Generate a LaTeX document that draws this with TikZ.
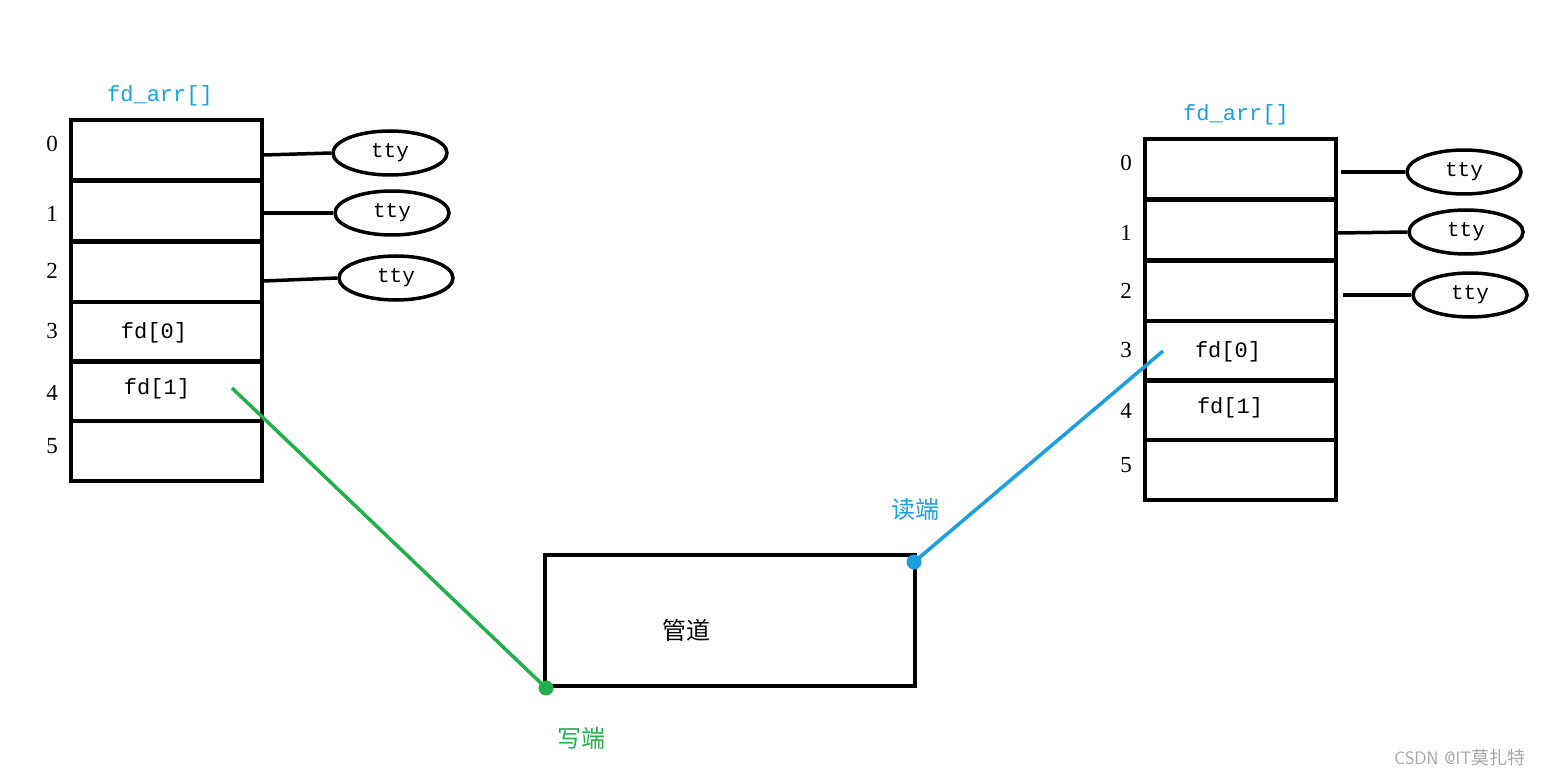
\documentclass[tikz,border=0pt]{standalone}
\usepackage{fontspec}
\setmainfont{Liberation Serif}
\newfontfamily\cjk{Noto Sans CJK SC}
\newfontfamily\mono{Liberation Mono}
\definecolor{lblue}{HTML}{1A9FE0}
\definecolor{lgreen}{HTML}{22B04C}
\usetikzlibrary{shapes.geometric}
\begin{document}
\begin{tikzpicture}[x=1pt,y=-1pt,
  thick line/.style={line width=3.5pt},
  cell/.style={draw,line width=3.5pt,minimum width=191pt,minimum height=60pt,inner sep=0pt},
  ell/.style={draw,ellipse,line width=3.5pt,minimum width=114pt,minimum height=44pt,inner sep=0pt,font=\mono\fontsize{21}{21}\selectfont},
  idx/.style={font=\fontsize{23}{23}\selectfont},
  lab/.style={font=\mono\fontsize{22}{22}\selectfont},
  cjklab/.style={font=\cjk\fontsize{24}{24}\selectfont},
  dotc/.style={circle,fill,inner sep=0pt,minimum size=15pt}]
\useasboundingbox (0,0) rectangle (1550,778);
% left table
\foreach \i/\y in {0/150,1/211,2/272,3/332,4/391,5/451}{
  \node[cell] (L\i) at (166.5,\y) {};
}
\foreach \i/\y in {0/144,1/214,2/271,3/331,4/393,5/446}{\node[idx] (Li\i) at (52,\y) {\i};}
\node[font=\mono\fontsize{22}{22}\selectfont,text=lblue] (Lt) at (160,96) {fd\_arr[]};
\node[lab] (Lf0) at (154,333) {fd[0]};
\node[lab] (Lf1) at (157,389) {fd[1]};
\node[ell] (Le0) at (390,153) {tty};
\node[ell] (Le1) at (392,213) {tty};
\node[ell] (Le2) at (396,278) {tty};
\draw[thick line] (L0.east) ++(0,5) coordinate (a0) -- (Le0.west);
\draw[thick line] (L1.east) ++(0,2) coordinate (a1) -- (Le1.west);
\draw[thick line] (L2.east) ++(0,9) coordinate (a2) -- (Le2.west);
% right table
\foreach \i/\y in {0/169,1/230,2/291,3/351,4/410,5/470}{
  \node[cell] (R\i) at (1240.5,\y) {};
}
\foreach \i/\y in {0/163,1/233,2/291,3/350,4/411,5/465}{\node[idx] (Ri\i) at (1126,\y) {\i};}
\node[font=\mono\fontsize{22}{22}\selectfont,text=lblue] (Rt) at (1236,115) {fd\_arr[]};
\node[lab] (Rf0) at (1228,352) {fd[0]};
\node[lab] (Rf1) at (1230,408) {fd[1]};
\node[ell] (Re0) at (1464,172) {tty};
\node[ell] (Re1) at (1466,232) {tty};
\node[ell] (Re2) at (1470,295) {tty};
\draw[thick line] (R0.east) ++(3,3) coordinate (b0) -- (Re0.west);
\draw[thick line] (R1.east) ++(0,3) coordinate (b1) -- (Re1.west);
\draw[thick line] (R2.east) ++(5,4) coordinate (b2) -- (Re2.west);
% pipe
\node[draw,line width=3.5pt,minimum width=370pt,minimum height=131pt,inner sep=0pt] (P) at (730,620.5) {};
\node[cjklab] (Pt) at (686,630) {管道};
\coordinate (W) at (546,688);
\coordinate (Rd) at (914,562);
\coordinate (Ws) at (232,388);
\coordinate (Rs) at (1163,351);
\draw[lgreen,line width=3.5pt] (Ws) -- (W);
\node[dotc,fill=lgreen] (Wd) at (W) {};
\draw[lblue,line width=3.5pt] (Rs) -- (Rd);
\node[dotc,fill=lblue] (Rdd) at (Rd) {};
\node[cjklab,text=lgreen] (Wt) at (581,738) {写端};
\node[cjklab,text=lblue] (Rt2) at (915,509) {读端};
\node[font=\sffamily\fontsize{18}{18}\selectfont,text=gray!70] (wm) at (1460,758) {CSDN @IT{\cjk 莫扎特}};
\end{tikzpicture}
\end{document}
